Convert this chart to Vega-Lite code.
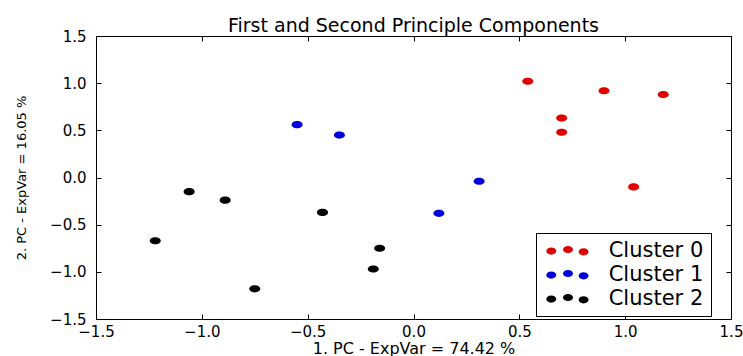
{
  "$schema": "https://vega.github.io/schema/vega-lite/v6.json",
  "width": 635,
  "height": 283,
  "autosize": "none",
  "padding": {"left": 96, "top": 36, "right": 12, "bottom": 37},
  "background": "white",
  "title": {"text": "First and Second Principle Components", "fontSize": 19, "font": "DejaVu Sans", "fontWeight": "normal", "color": "black", "baseline": "alphabetic", "offset": -22},
  "data": {"values": [
    {"pc1": 0.54, "pc2": 1.02, "cluster": "Cluster 0"},
    {"pc1": 0.90, "pc2": 0.92, "cluster": "Cluster 0"},
    {"pc1": 1.18, "pc2": 0.88, "cluster": "Cluster 0"},
    {"pc1": 0.70, "pc2": 0.63, "cluster": "Cluster 0"},
    {"pc1": 0.70, "pc2": 0.48, "cluster": "Cluster 0"},
    {"pc1": 1.04, "pc2": -0.10, "cluster": "Cluster 0"},
    {"pc1": -0.55, "pc2": 0.56, "cluster": "Cluster 1"},
    {"pc1": -0.35, "pc2": 0.45, "cluster": "Cluster 1"},
    {"pc1": 0.31, "pc2": -0.04, "cluster": "Cluster 1"},
    {"pc1": 0.12, "pc2": -0.38, "cluster": "Cluster 1"},
    {"pc1": -1.06, "pc2": -0.15, "cluster": "Cluster 2"},
    {"pc1": -0.89, "pc2": -0.24, "cluster": "Cluster 2"},
    {"pc1": -0.43, "pc2": -0.37, "cluster": "Cluster 2"},
    {"pc1": -1.22, "pc2": -0.67, "cluster": "Cluster 2"},
    {"pc1": -0.75, "pc2": -1.18, "cluster": "Cluster 2"},
    {"pc1": -0.19, "pc2": -0.97, "cluster": "Cluster 2"},
    {"pc1": -0.16, "pc2": -0.75, "cluster": "Cluster 2"}
  ]},
  "layer": [
    {
      "mark": {"type": "point", "filled": true, "opacity": 1, "strokeWidth": 0, "size": 121,
               "shape": "M -1,0 A 1,0.65 0 1,0 1,0 A 1,0.65 0 1,0 -1,0 Z"},
      "encoding": {
        "x": {"field": "pc1", "type": "quantitative",
              "scale": {"domain": [-1.5, 1.5], "nice": false, "zero": false},
              "axis": {"orient": "bottom", "values": [-1.5, -1, -0.5, 0, 0.5, 1, 1.5], "format": ".1f",
                       "grid": false, "tickSize": -5, "tickColor": "black", "domainColor": "black",
                       "labelFont": "DejaVu Sans", "labelFontSize": 15, "labelColor": "black", "labelPadding": 10,
                       "labelFlush": false,
                       "title": "1. PC - ExpVar = 74.42 %", "titleFont": "DejaVu Sans", "titleFontSize": 16,
                       "titleFontWeight": "normal", "titleColor": "black", "titleX": 317.5, "titleY": 34,
                       "titleBaseline": "alphabetic", "titleAnchor": "middle"}},
        "y": {"field": "pc2", "type": "quantitative",
              "scale": {"domain": [-1.5, 1.5], "nice": false, "zero": false},
              "axis": {"orient": "left", "values": [-1.5, -1, -0.5, 0, 0.5, 1, 1.5], "format": ".1f",
                       "grid": false, "tickSize": -5, "tickColor": "black", "domainColor": "black",
                       "labelFont": "DejaVu Sans", "labelFontSize": 15, "labelColor": "black", "labelPadding": 15,
                       "labelFlush": false,
                       "title": "2. PC - ExpVar = 16.05 %", "titleFont": "DejaVu Sans", "titleFontSize": 13,
                       "titleFontWeight": "normal", "titleColor": "black", "titleX": -75, "titleY": 141.5,
                       "titleBaseline": "middle", "titleAnchor": "middle"}},
        "color": {"field": "cluster", "type": "nominal",
                  "scale": {"domain": ["Cluster 0", "Cluster 1", "Cluster 2"], "range": ["#e00000", "#0000dd", "#000000"]},
                  "legend": {"orient": "none", "legendX": 440, "legendY": 197, "title": null,
                             "symbolType": "M -4.34,0.12 A 1,0.72 0 1,0 -2.34,0.12 A 1,0.72 0 1,0 -4.34,0.12 Z M -1,-0.2 A 1,0.72 0 1,0 1,-0.2 A 1,0.72 0 1,0 -1,-0.2 Z M 2.12,0.26 A 1,0.72 0 1,0 4.12,0.26 A 1,0.72 0 1,0 2.12,0.26 Z",
                             "symbolSize": 100, "symbolStrokeWidth": 0, "symbolOpacity": 1, "symbolOffset": 14.5,
                             "labelFont": "DejaVu Sans", "labelFontSize": 21, "labelColor": "black", "labelOffset": 30.2,
                             "labelExpr": "datum.label + '\u00a0\u00a0'", "labelLimit": 300,
                             "rowPadding": 2, "padding": 7, "strokeColor": "black", "fillColor": "white",
                             "cornerRadius": 0}}
      }
    },
    {
      "mark": {"type": "point", "opacity": 0},
      "encoding": {
        "x": {"field": "pc1", "type": "quantitative",
              "scale": {"domain": [-1.5, 1.5], "nice": false, "zero": false},
              "axis": {"orient": "top", "values": [-1.5, -1, -0.5, 0, 0.5, 1, 1.5], "labels": false, "title": null,
                       "grid": false, "tickSize": -5, "tickColor": "black", "domainColor": "black"}},
        "y": {"field": "pc2", "type": "quantitative",
              "scale": {"domain": [-1.5, 1.5], "nice": false, "zero": false},
              "axis": {"orient": "right", "values": [-1.5, -1, -0.5, 0, 0.5, 1, 1.5], "labels": false, "title": null,
                       "grid": false, "tickSize": -5, "tickColor": "black", "domainColor": "black"}}
      }
    }
  ],
  "resolve": {"axis": {"x": "independent", "y": "independent"}},
  "config": {"view": {"stroke": "black", "strokeWidth": 1}}
}
